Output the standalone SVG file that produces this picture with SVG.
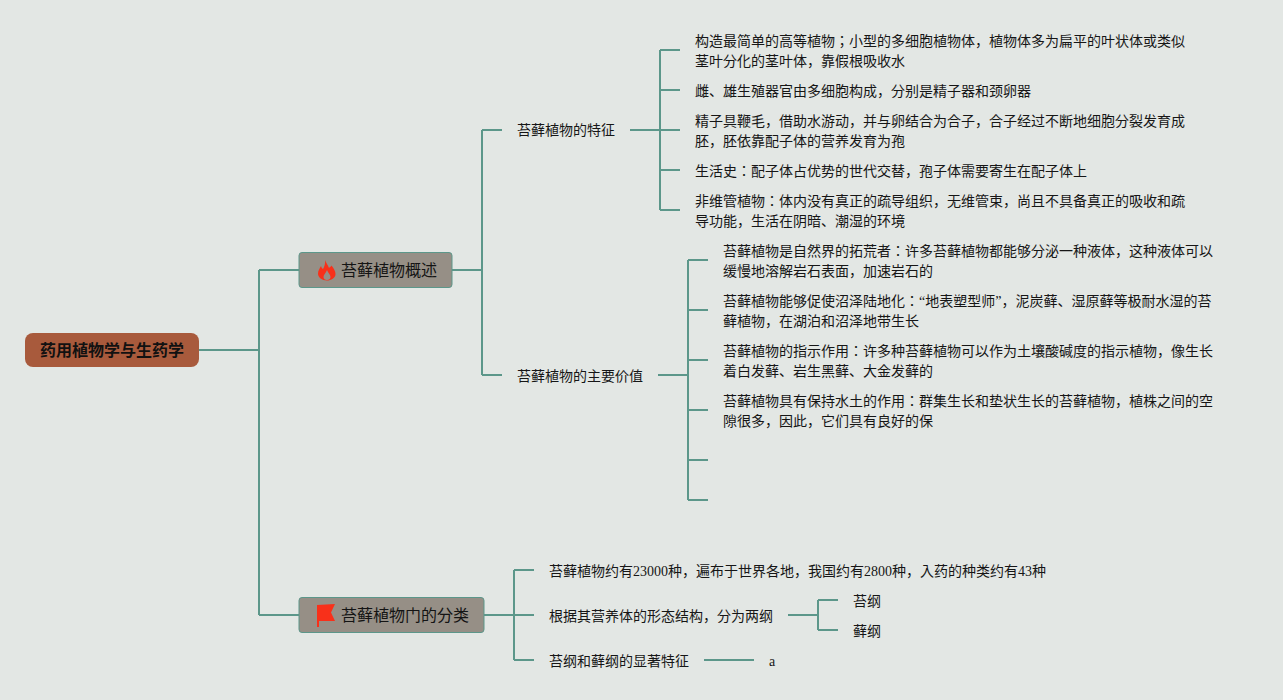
<svg xmlns="http://www.w3.org/2000/svg" width="1283" height="700" viewBox="0 0 1283 700">
<style>
.c{fill:none;stroke:#5c978a;stroke-width:2}
text{font-family:"Liberation Serif","Noto Sans CJK JP",serif;font-size:14px;fill:#161616}
.m{font-size:16px;fill:#141414}
.r{font-size:16px;font-weight:700;fill:#111}
.b{fill:#968f86;stroke:#5c978a;stroke-width:1}
</style>
<rect width="1283" height="700" fill="#e3e7e4"/>
<g id="connectors">
<path class="c" d="M199 350H259M259 270V615M259 270H299M259 615H299"/>
<path class="c" d="M452 270H482M482 130V375M482 130H502M482 375H502"/>
<path class="c" d="M630 130H660M660 50V210M660 50H680M660 90H680M660 130H680M660 170H680M660 210H680"/>
<path class="c" d="M658 375H688M688 260V500M688 260H708M688 310H708M688 360H708M688 410H708M688 460H708M688 500H708"/>
<path class="c" d="M484 615H514M514 570V660M514 570H534M514 615H534M514 660H534"/>
<path class="c" d="M788 615H818M818 600V630M818 600H838M818 630H838"/>
<path class="c" d="M704 660H754"/>
</g>
<g id="root"><rect x="25" y="333" width="174" height="34" rx="8" fill="#a85a3c"/><text class="r" x="40" y="356">药用植物学与生药学</text></g>
<g id="n1"><rect class="b" x="299" y="252.500" width="153" height="35" rx="3"/>
<path fill-rule="evenodd" d="M325 260C326 263 328 265 329 268C330 267 331 266.500 331.500 265.500C334 268.500 335.500 271.500 335.500 274C335.500 278 331 280.500 327 280.500C322 280.500 318 277.500 318 273.500C318 270.500 320 268 321 266C321.500 267.500 322 268.500 323 269C324.500 266.500 325.500 263 325 260ZM327 270C326 273 323.500 274.500 323.500 277C323.500 279 325 280 327 280C329 280 330.500 279 330.500 277C330.500 274.500 328 273 327 270Z" fill="#f8301a"/>
<text class="m" x="341" y="276">苔藓植物概述</text></g>
<g id="n2"><rect class="b" x="299" y="597.500" width="185" height="35" rx="3"/>
<path d="M317 605L335 604L331 612.500L335 621H319V627H317Z" fill="#f8301a"/>
<text class="m" x="341" y="621">苔藓植物门的分类</text></g>
<g id="n3"><text x="517" y="135">苔藓植物的特征</text></g>
<g id="n4"><text x="517" y="381">苔藓植物的主要价值</text></g>
<g id="t1"><text x="695" y="46">构造最简单的高等植物；小型的多细胞植物体，植物体多为扁平的叶状体或类似</text><text x="695" y="66">茎叶分化的茎叶体，靠假根吸收水</text></g>
<g id="t2"><text x="695" y="96">雌、雄生殖器官由多细胞构成，分别是精子器和颈卵器</text></g>
<g id="t3"><text x="695" y="126">精子具鞭毛，借助水游动，并与卵结合为合子，合子经过不断地细胞分裂发育成</text><text x="695" y="146">胚，胚依靠配子体的营养发育为孢</text></g>
<g id="t4"><text x="695" y="176">生活史：配子体占优势的世代交替，孢子体需要寄生在配子体上</text></g>
<g id="t5"><text x="695" y="206">非维管植物：体内没有真正的疏导组织，无维管束，尚且不具备真正的吸收和疏</text><text x="695" y="226">导功能，生活在阴暗、潮湿的环境</text></g>
<g id="v1"><text x="723" y="256">苔藓植物是自然界的拓荒者：许多苔藓植物都能够分泌一种液体，这种液体可以</text><text x="723" y="276">缓慢地溶解岩石表面，加速岩石的</text></g>
<g id="v2"><text x="723" y="306">苔藓植物能够促使沼泽陆地化：“地表塑型师”，泥炭藓、湿原藓等极耐水湿的苔</text><text x="723" y="326">藓植物，在湖泊和沼泽地带生长</text></g>
<g id="v3"><text x="723" y="356">苔藓植物的指示作用：许多种苔藓植物可以作为土壤酸碱度的指示植物，像生长</text><text x="723" y="376">着白发藓、岩生黑藓、大金发藓的</text></g>
<g id="v4"><text x="723" y="406">苔藓植物具有保持水土的作用：群集生长和垫状生长的苔藓植物，植株之间的空</text><text x="723" y="426">隙很多，因此，它们具有良好的保</text></g>
<g id="c1"><text x="549" y="576">苔藓植物约有23000种，遍布于世界各地，我国约有2800种，入药的种类约有43种</text></g>
<g id="c2"><text x="549" y="621">根据其营养体的形态结构，分为两纲</text></g>
<g id="c3"><text x="549" y="666">苔纲和藓纲的显著特征</text></g>
<g id="c21"><text x="853" y="606">苔纲</text></g>
<g id="c22"><text x="853" y="636">藓纲</text></g>
<g id="c31"><text x="769" y="666">a</text></g>
</svg>
